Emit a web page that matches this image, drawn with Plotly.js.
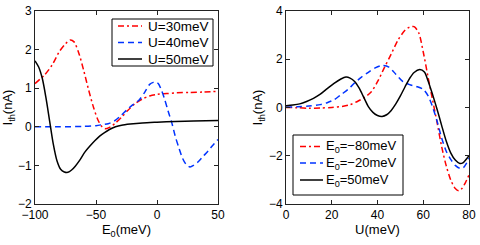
<!DOCTYPE html>
<html>
<head>
<meta charset="utf-8">
<script src="https://cdn.plot.ly/plotly-3.0.1.min.js"></script>
<style>html,body{margin:0;padding:0;background:#fff;}#chart{width:480px;height:245px;}</style>
</head>
<body>
<div id="chart"></div>
<script>
// Left panel: I_th vs E0
const E_u30 = [-100,-92,-86,-80,-75,-71,-68,-64,-60,-56,-52,-48,-45,-42,-38,-34,-29,-24,-18,-12,-6,0,8,16,27,38,50];
const I_u30 = [1.12,1.35,1.6,1.95,2.15,2.25,2.2,1.9,1.45,0.95,0.5,0.15,0.0,-0.05,0.0,0.1,0.25,0.42,0.6,0.72,0.8,0.84,0.86,0.88,0.89,0.9,0.92];

const E_u40 = [-100,-80,-60,-50,-44,-40,-35,-30,-25,-20,-15,-10,-6,-3,-1,1,3,6,9,12,15,18,21,24,27,30,34,38,42,46,50];
const I_u40 = [0,0,0.01,0.03,0.06,0.08,0.15,0.28,0.43,0.57,0.68,0.9,1.1,1.15,1.16,1.12,1.0,0.74,0.42,0.12,-0.25,-0.55,-0.82,-0.98,-1.04,-1.0,-0.9,-0.76,-0.62,-0.47,-0.33];

const E_u50 = [-100,-97,-94,-91,-88,-85,-82,-79,-76,-73,-70,-67,-63,-59,-55,-51,-47,-43,-39,-34,-29,-22,-12,0,15,30,50];
const I_u50 = [1.71,1.55,1.25,0.75,0.15,-0.45,-0.88,-1.1,-1.17,-1.18,-1.12,-1.02,-0.85,-0.65,-0.5,-0.36,-0.24,-0.15,-0.07,0.0,0.04,0.07,0.1,0.12,0.14,0.15,0.16];

// Right panel: I_th vs U
const U_em80 = [0,5,10,15,20,25,28,31,34,37,40,43,46,49,52,54,56,58,60,62,64,66,68,70,72,74,75.5,77,78.5,80];
const I_em80 = [0,-0.01,-0.03,-0.02,0,0.05,0.12,0.24,0.4,0.62,1.07,1.65,2.22,2.8,3.2,3.33,3.35,3.1,2.3,1.31,0.35,-0.6,-1.6,-2.4,-3.0,-3.36,-3.45,-3.35,-3.1,-2.8];

const U_em20 = [0,5,10,15,18,21,24,27,30,33,36,39,42,45,48,51,54,57,60,62,64,66,68,70,72,74,76,77.5,79,80];
const I_em20 = [0.01,0.03,0.06,0.12,0.2,0.32,0.53,0.74,1.02,1.26,1.46,1.64,1.74,1.67,1.38,1.08,0.95,0.87,0.75,0.5,0.05,-0.55,-1.25,-1.8,-2.15,-2.4,-2.52,-2.5,-2.3,-2.1];

const U_e50 = [0,3,6,9,12,15,18,21,24,26.2,28,30,32,34,36,38,40,42,44,46,48,50,52,54,56,58.5,60.5,62,64,66,68,70,72,74,76,77.5,79,80];
const I_e50 = [0.07,0.1,0.15,0.25,0.38,0.55,0.78,1.0,1.18,1.26,1.22,1.08,0.8,0.42,0.04,-0.2,-0.33,-0.37,-0.3,-0.12,0.15,0.48,0.85,1.2,1.45,1.57,1.47,1.13,0.56,-0.06,-0.73,-1.38,-1.88,-2.18,-2.32,-2.28,-2.12,-2.0];

const leftNames = ['U=30meV','U=40meV','U=50meV'];
const rightNames = ['E<sub>0</sub>=\u221280meV','E<sub>0</sub>=\u221220meV','E<sub>0</sub>=50meV'];

const RED = '#ff0000', BLUE = '#0033ff', BLACK = '#000000';
const DASHDOT = '6px,3px,2px,3px', DASH = '6px,4px';
const colors = [RED, BLUE, BLACK];
const dashes = [DASHDOT, DASH, 'solid'];

const seriesL = [[E_u30, I_u30], [E_u40, I_u40], [E_u50, I_u50]];
const seriesR = [[U_em80, I_em80], [U_em20, I_em20], [U_e50, I_e50]];

const traces = [];
seriesL.forEach((s, i) => traces.push({type:'scatter', mode:'lines', x:s[0], y:s[1], name:leftNames[i],
  line:{color:colors[i], width:1.5, dash:dashes[i], shape:'spline', smoothing:0.8}, xaxis:'x', yaxis:'y', hoverinfo:'skip'}));
seriesR.forEach((s, i) => traces.push({type:'scatter', mode:'lines', x:s[0], y:s[1], name:rightNames[i],
  line:{color:colors[i], width:1.5, dash:dashes[i], shape:'spline', smoothing:0.8}, xaxis:'x2', yaxis:'y2', hoverinfo:'skip'}));

// Layout geometry (pixels) for the manual legends
const W = 480, H = 245, ML = 35, MR = 11, MT = 11, MB = 41;
const PW = W - ML - MR, PH = H - MT - MB;
const px2x = p => (p - ML) / PW;
const px2y = p => (H - MB - p) / PH;

const shapes = [], annotations = [];
function addLegend(names, box, lineX0, lineX1, textX, rowsY, fsize) {
  shapes.push({type:'rect', xref:'paper', yref:'paper', x0:px2x(box[0]), x1:px2x(box[1]), y0:px2y(box[2]), y1:px2y(box[3]),
    line:{color:'#000', width:1}, fillcolor:'#fff', layer:'above'});
  names.forEach((n, i) => {
    shapes.push({type:'line', xref:'paper', yref:'paper', x0:px2x(lineX0), x1:px2x(lineX1), y0:px2y(rowsY[i]), y1:px2y(rowsY[i]),
      line:{color:colors[i], width:1.5, dash:dashes[i]}, layer:'above'});
    annotations.push({xref:'paper', yref:'paper', x:px2x(textX), y:px2y(rowsY[i]), xanchor:'left', yanchor:'middle',
      text:n, showarrow:false, font:{size:fsize, color:'#000'}});
  });
}
addLegend(leftNames, [112, 213, 19, 66], 118, 142, 146, [26, 42.5, 59], 13.5);
addLegend(rightNames, [293, 403, 135, 195], 300, 323, 324, [146.5, 163, 180], 13);

const axBase = {
  showgrid:false, zeroline:false, showline:true, linecolor:'#222', linewidth:1,
  mirror:'ticks', ticks:'inside', ticklen:4, tickcolor:'#222',
  tickfont:{size:12, color:'#000'}, fixedrange:true
};
const FONT = 'Liberation Sans, Arial, Helvetica, sans-serif';

const layout = {
  width:W, height:H,
  margin:{l:ML, r:MR, t:MT, b:MB},
  paper_bgcolor:'#fff', plot_bgcolor:'#fff',
  font:{family:FONT, size:12, color:'#000'},
  showlegend:false,
  xaxis: Object.assign({}, axBase, {domain:[0, px2x(218)], range:[-100,50], tickvals:[-100,-50,0,50], anchor:'y',
    title:{text:'E<sub>0</sub>(meV)', font:{size:13}, standoff:2}}),
  yaxis: Object.assign({}, axBase, {range:[-2,3], tickvals:[-2,-1,0,1,2,3], anchor:'x',
    title:{text:'I<sub>th</sub>(nA)', font:{size:13}, standoff:3}}),
  xaxis2: Object.assign({}, axBase, {domain:[px2x(286), 1], range:[0,80], tickvals:[0,20,40,60,80], anchor:'y2',
    title:{text:'U(meV)', font:{size:13}, standoff:2}}),
  yaxis2: Object.assign({}, axBase, {range:[-4,4], tickvals:[-4,-2,0,2,4], anchor:'x2',
    title:{text:'I<sub>th</sub>(nA)', font:{size:13}, standoff:3}}),
  shapes: shapes,
  annotations: annotations
};

Plotly.newPlot('chart', traces, layout, {staticPlot:true, displayModeBar:false});
</script>
</body>
</html>
